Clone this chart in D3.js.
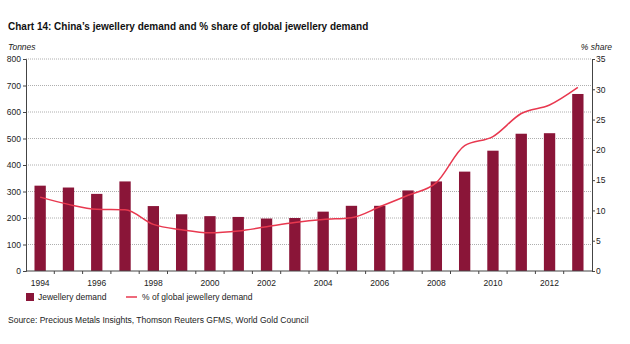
<!DOCTYPE html>
<head>
    <meta charset="utf-8">
    <title>China jewellery demand</title>
    <script src="https://d3js.org/d3.v7.min.js"></script>
    <style>
        body { margin: 0; background: #fff; }
        text { font-family: "Liberation Sans", Arial, sans-serif; fill: #222; }
        .axis text { font-size: 8.5px; }
        .axis path, .axis line { stroke: #444; }
    </style>
</head>
<body>
    <div id="container"></div>
    <script>
        //--------------------------- DATA ---------------------------//
        var years = d3.range(1994, 2014);
        var demand = [322, 315, 291, 338, 245, 214, 207, 204, 198, 200,
                      224, 246, 246, 304, 338, 375, 454, 518, 520, 668];
        var share = [12.2, 11.0, 10.2, 10.1, 7.7, 6.8, 6.3, 6.6, 7.3, 8.0,
                     8.5, 8.8, 10.6, 12.5, 14.6, 20.7, 22.2, 26.0, 27.4, 30.3];
        var leftTicks = [0, 100, 200, 300, 400, 500, 600, 700, 800];
        var rightTicks = [0, 5, 10, 15, 20, 25, 30, 35];
        var yearLabels = [1994, 1996, 1998, 2000, 2002, 2004, 2006, 2008, 2010, 2012];

        //--------------------------- SVG ----------------------------//
        var W = 630, H = 344,
            margin = { top: 59, right: 38, bottom: 73, left: 26 },
            width = W - margin.left - margin.right,
            height = H - margin.top - margin.bottom;

        var svg = d3.select("#container").append("svg")
            .attr("width", W).attr("height", H);

        var g = svg.append("g")
            .attr("transform", "translate(" + margin.left + "," + margin.top + ")");

        var x = d3.scaleBand().domain(years).range([0, width]).paddingInner(0.6).paddingOuter(0.3);
        var xb = d3.scaleBand().domain(years).range([0, width]);
        var y = d3.scaleLinear().domain([0, 800]).range([height, 0]);
        var y2 = d3.scaleLinear().domain([0, 35]).range([height, 0]);

        //-------------------------- GRID ----------------------------//
        g.selectAll(".grid").data(leftTicks.slice(1)).enter().append("line")
            .attr("x1", 0).attr("x2", width)
            .attr("y1", function (d) { return y(d); })
            .attr("y2", function (d) { return y(d); })
            .attr("stroke", "#999").attr("stroke-width", 0.8)
            .attr("stroke-dasharray", "1,1");

        //-------------------------- BARS ----------------------------//
        g.selectAll(".bar").data(demand).enter().append("rect")
            .attr("x", function (d, i) { return x(years[i]); })
            .attr("width", x.bandwidth())
            .attr("y", function (d) { return y(d); })
            .attr("height", function (d) { return height - y(d); })
            .attr("fill", "#8a1538");

        //-------------------------- LINE ----------------------------//
        var line = d3.line()
            .x(function (d, i) { return x(years[i]) + x.bandwidth() / 2; })
            .y(function (d) { return y2(d); })
            .curve(d3.curveMonotoneX);

        g.append("path").datum(share)
            .attr("d", line)
            .attr("fill", "none")
            .attr("stroke", "#e8384f")
            .attr("stroke-width", 1.5);

        //-------------------------- AXES ----------------------------//
        g.append("g").attr("class", "axis")
            .call(d3.axisLeft(y).tickValues(leftTicks).tickSize(3).tickSizeOuter(3))
            .call(function (a) { a.selectAll("text").attr("x", -5); });

        g.append("g").attr("class", "axis")
            .attr("transform", "translate(" + width + ",0)")
            .call(d3.axisRight(y2).tickValues(rightTicks).tickSize(3).tickSizeOuter(0))
            .call(function (a) { a.selectAll("text").attr("x", 4); });

        // year ticks sit on the band edges, labels under alternate bars
        var xAxis = g.append("g").attr("class", "axis")
            .attr("transform", "translate(0," + height + ")");
        xAxis.append("line").attr("x1", 0).attr("x2", width).attr("stroke", "#444");
        xAxis.selectAll(".tk").data(years.slice(1)).enter().append("line")
            .attr("x1", function (d) { return xb(d); })
            .attr("x2", function (d) { return xb(d); })
            .attr("y1", 0).attr("y2", 3).attr("stroke", "#444");
        xAxis.selectAll(".lb").data(yearLabels).enter().append("text")
            .attr("x", function (d) { return xb(d) + xb.bandwidth() / 2; })
            .attr("y", 15)
            .attr("text-anchor", "middle")
            .text(function (d) { return d; });

        //------------------------- TITLES ---------------------------//
        svg.append("text").attr("x", 8).attr("y", 30)
            .style("font-size", "10px").style("font-weight", "bold").style("fill", "#111")
            .text("Chart 14: China\u2019s jewellery demand and % share of global jewellery demand");
        svg.append("text").attr("x", 8).attr("y", 50)
            .style("font-size", "8.5px").style("font-style", "italic")
            .text("Tonnes");
        svg.append("text").attr("x", 612).attr("y", 50)
            .attr("text-anchor", "end")
            .style("font-size", "8.5px").style("font-style", "italic")
            .text("% share");

        //------------------------- LEGEND ---------------------------//
        var legend = svg.append("g").attr("transform", "translate(26,297)");
        legend.append("rect").attr("x", 0).attr("y", -4).attr("width", 8).attr("height", 8)
            .attr("fill", "#8a1538");
        legend.append("text").attr("x", 12).attr("y", 3)
            .style("font-size", "8.5px").text("Jewellery demand");
        legend.append("line").attr("x1", 100).attr("x2", 111).attr("y1", 0).attr("y2", 0)
            .attr("stroke", "#e8384f").attr("stroke-width", 1.5);
        legend.append("text").attr("x", 116).attr("y", 3)
            .style("font-size", "8.5px").text("% of global jewellery demand");

        svg.append("text").attr("x", 8).attr("y", 323)
            .style("font-size", "8.5px")
            .text("Source: Precious Metals Insights, Thomson Reuters GFMS, World Gold Council");
    </script>
</body>
